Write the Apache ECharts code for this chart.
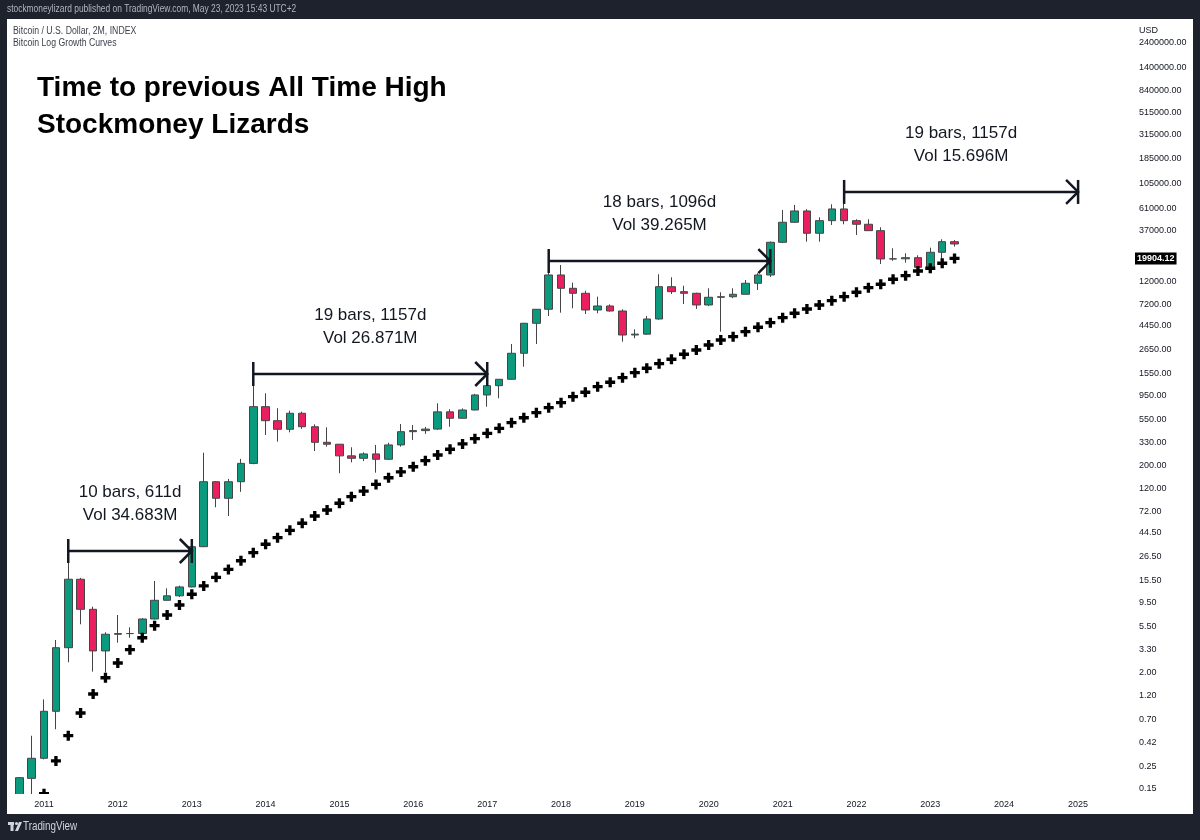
<!DOCTYPE html>
<html><head><meta charset="utf-8">
<script src="https://cdn.jsdelivr.net/npm/echarts@6/dist/echarts.min.js"></script>
<style>html,body{margin:0;padding:0;background:#1e222d}#c{width:1200px;height:840px}</style>
</head><body><div id="c"></div><script>
// ---------- DATA (2M bars, BTC/USD INDEX) ----------
const BAR_DATES = [
  '2010-09-01','2010-11-01',
  '2011-01-01','2011-03-01','2011-05-01','2011-07-01','2011-09-01','2011-11-01',
  '2012-01-01','2012-03-01','2012-05-01','2012-07-01','2012-09-01','2012-11-01',
  '2013-01-01','2013-03-01','2013-05-01','2013-07-01','2013-09-01','2013-11-01',
  '2014-01-01','2014-03-01','2014-05-01','2014-07-01','2014-09-01','2014-11-01',
  '2015-01-01','2015-03-01','2015-05-01','2015-07-01','2015-09-01','2015-11-01',
  '2016-01-01','2016-03-01','2016-05-01','2016-07-01','2016-09-01','2016-11-01',
  '2017-01-01','2017-03-01','2017-05-01','2017-07-01','2017-09-01','2017-11-01',
  '2018-01-01','2018-03-01','2018-05-01','2018-07-01','2018-09-01','2018-11-01',
  '2019-01-01','2019-03-01','2019-05-01','2019-07-01','2019-09-01','2019-11-01',
  '2020-01-01','2020-03-01','2020-05-01','2020-07-01','2020-09-01','2020-11-01',
  '2021-01-01','2021-03-01','2021-05-01','2021-07-01','2021-09-01','2021-11-01',
  '2022-01-01','2022-03-01','2022-05-01','2022-07-01','2022-09-01','2022-11-01',
  '2023-01-01','2023-03-01','2023-05-01'
];
const OPEN = [
  0.062, 0.19,
  0.297, 0.844, 3.47, 15.9, 8.15, 3.23,
  4.68, 4.75, 4.76, 6.57, 9.96, 11.0,
  13.4, 32.8, 139, 96.2, 139, 209,
  738, 540, 446, 637, 472, 334,
  320, 247, 234, 258, 229, 315,
  423, 433, 448, 657, 570, 685,
  957, 1176, 1356, 2418, 4710, 6430,
  13786, 10254, 9175, 6330, 6920, 6190,
  3630, 3700, 5181, 10626, 9512, 9175,
  7077, 8397, 8500, 8975, 11463, 13786,
  28515, 44500, 57210, 34850, 46110, 59820,
  46110, 42570, 36920, 19680, 19750, 20250,
  16350, 22830, 28900
];
const HIGH = [
  0.195, 0.49,
  1.10, 4.12, 29.8, 16.4, 8.64, 4.89,
  7.18, 5.46, 6.7, 15.3, 13.0, 13.8,
  34.5, 265, 141, 148, 231, 1450,
  993, 712, 675, 660, 498, 466,
  322, 299, 267, 315, 331, 502,
  491, 470, 795, 696, 710, 980,
  1250, 1360, 2972, 4750, 6450, 18800,
  17211, 11618, 9720, 8510, 7170, 6430,
  4120, 5541, 14000, 13100, 10860, 9300,
  10254, 9384, 10254, 12339, 14300, 29000,
  58500, 65390, 59500, 49700, 66400, 69000,
  47560, 47560, 39800, 24960, 22330, 21360,
  25290, 30500, 29960
];
const LOW = [
  0.058, 0.125,
  0.29, 0.566, 2.51, 5.84, 2.04, 2.0,
  3.88, 4.33, 4.7, 6.5, 9.9, 10.7,
  13.3, 32.5, 78.8, 64.9, 111, 205,
  393, 339, 417, 450, 275, 303,
  168, 214, 220, 170, 226, 303,
  352, 403, 440, 472, 565, 680,
  737, 889, 1345, 1794, 2972, 5541,
  5961, 6574, 5790, 5880, 6100, 3128,
  3374, 3650, 5100, 9036, 7236, 6472,
  6900, 3906, 8230, 8950, 9873, 13200,
  28000, 44000, 28900, 28900, 41900, 42570,
  33560, 36900, 17600, 18900, 18120, 15400,
  16300, 18530, 25860
];
const CLOSE = [
  0.193, 0.297,
  0.844, 3.47, 15.9, 8.15, 3.23, 4.68,
  4.75, 4.76, 6.57, 9.96, 11.0, 13.4,
  32.8, 139, 96.2, 139, 209, 738,
  540, 446, 637, 472, 334, 320,
  247, 234, 258, 229, 315, 423,
  433, 448, 657, 570, 685, 957,
  1176, 1356, 2418, 4710, 6430, 13786,
  10254, 9175, 6330, 6920, 6190, 3630,
  3700, 5181, 10626, 9512, 9175, 7077,
  8397, 8500, 8975, 11463, 13786, 28515,
  44500, 57210, 34850, 46110, 59820, 46110,
  42570, 36920, 19680, 19750, 20250, 16350,
  22830, 28900, 27450
];
// Bitcoin Log Growth Curve (lower curve), one value per bar from 2011-01
const CURVE_DATES = BAR_DATES.slice(2);
const CURVE = [
  0.135, 0.280, 0.491, 0.813, 1.24, 1.78,
  2.47, 3.32, 4.33, 5.66, 7.18, 8.97,
  11.4, 13.7, 16.6, 19.8, 24.0, 28.7,
  34.6, 40.1, 47.2, 55.2, 64.9, 74.2,
  86.1, 99.7, 113, 131, 152, 173,
  194, 222, 252, 286, 322, 362,
  408, 456, 517, 577, 645, 721,
  806, 921, 1016, 1150, 1269, 1405,
  1570, 1732, 1918, 2115, 2364, 2601,
  2908, 3250, 3497, 3907, 4309, 4774,
  5334, 5883, 6473, 7076, 7784, 8510,
  9384, 10394, 11207, 12530, 13571, 15066,
  15999, 17886, 19904.12
];
const CURVE_LAST = 19904.12;
const Y_TICKS = [0.15, 0.25, 0.42, 0.7, 1.2, 2, 3.3, 5.5, 9.5, 15.5, 26.5, 44.5, 72, 120, 200, 330, 550, 950,
  1550, 2650, 4450, 7200, 12000, 19904.12, 37000, 61000, 105000, 185000, 315000, 515000, 840000, 1400000, 2400000];
const X_RANGE = ['2010-07-07', '2025-08-21'];
const Y_RANGE = [0.1342, 2677000];
// "Time to previous ATH" annotations
const ANN_START = ['2011-05-01', '2013-11-01', '2017-11-01', '2021-11-01'];
const ANN_END   = ['2013-01-01', '2017-01-01', '2020-11-01', '2025-01-01'];
const ANN_PRICE = [29.8, 1525, 18800, 87300];
const ANN_BARS  = ['10 bars, 611d', '19 bars, 1157d', '18 bars, 1096d', '19 bars, 1157d'];
const ANN_VOL   = ['Vol 34.683M', 'Vol 26.871M', 'Vol 39.265M', 'Vol 15.696M'];

// ---------- CHART ----------
const SANS = "'Liberation Sans', Arial, sans-serif";
const INK = '#131722';
const FRAME = '#1e222d';
const YEAR_MS = 365 * 24 * 3600 * 1000;

const candles = BAR_DATES.map((d, i) => [d, OPEN[i], CLOSE[i], LOW[i], HIGH[i]]);
const curve = CURVE_DATES.map((d, i) => [d, CURVE[i]]);
const ann = ANN_START.map((s, i) => [s, ANN_END[i], ANN_PRICE[i]]);

const chart = echarts.init(document.getElementById('c'), null, { renderer: 'canvas' });
chart.setOption({
  animation: false,
  backgroundColor: '#ffffff',
  grid: { left: 8, right: 75, top: 38, bottom: 46, containLabel: false },
  xAxis: {
    type: 'time', min: X_RANGE[0], max: X_RANGE[1], z: 30,
    minInterval: YEAR_MS, maxInterval: YEAR_MS * 1.01,
    axisLine: { show: false }, axisTick: { show: false }, splitLine: { show: false },
    axisLabel: {
      showMinLabel: false, showMaxLabel: false, hideOverlap: false,
      formatter: v => { const d = new Date(v); return (d.getMonth() === 0 && d.getDate() === 1) ? String(d.getFullYear()) : ''; },
      color: INK, fontFamily: SANS, fontSize: 9, margin: 6
    }
  },
  yAxis: {
    type: 'log', position: 'right', min: Y_RANGE[0], max: Y_RANGE[1], z: 30,
    name: 'USD', nameLocation: 'end', nameGap: 3,
    nameTextStyle: { color: INK, fontFamily: SANS, fontSize: 9, align: 'left', padding: [0, 0, 0, 14] },
    axisLine: { show: false }, axisTick: { show: false }, splitLine: { show: false },
    axisLabel: {
      customValues: Y_TICKS,
      margin: 10, align: 'left',
      formatter: v => (Math.abs(v - CURVE_LAST) < 0.01 ? '{cur|' + CURVE_LAST.toFixed(2) + '}' : '{n|' + v.toFixed(2) + '}'),
      rich: {
        n: { color: INK, fontFamily: SANS, fontSize: 9, padding: [0, 0, 0, 4] },
        cur: { color: '#ffffff', backgroundColor: '#000000', fontFamily: SANS, fontSize: 9, fontWeight: 'bold', padding: [2, 2, 1, 2] }
      }
    }
  },
  series: [
    {
      type: 'candlestick', data: candles, barWidth: 8, clip: true, z: 2,
      itemStyle: {
        color: '#0c9a7e', color0: '#ea1f5f',
        borderColor: '#454545', borderColor0: '#454545', borderColorDoji: '#333333', borderWidth: 1
      }
    },
    {
      type: 'scatter', data: curve, clip: true, z: 3,
      symbol: 'path://M3,0H6V3H9V6H6V9H3V6H0V3H3Z', symbolSize: 10,
      itemStyle: { color: '#000000', opacity: 1 }
    },
    {
      type: 'custom', data: ann, z: 5, clip: false,
      encode: { x: [0, 1], y: 2 },
      renderItem: (params, api) => {
        const i = params.dataIndex;
        const p1 = api.coord([api.value(0), api.value(2)]);
        const p2 = api.coord([api.value(1), api.value(2)]);
        const x1 = p1[0], x2 = p2[0], y = p1[1];
        const t = 12, a = 12, mid = (x1 + x2) / 2;
        const ls = { stroke: INK, lineWidth: 2.5, fill: null };
        const ts = { fill: INK, fontFamily: SANS, fontSize: 17, align: 'center', verticalAlign: 'middle' };
        return {
          type: 'group', children: [
            { type: 'line', shape: { x1: x1, y1: y, x2: x2, y2: y }, style: ls },
            { type: 'line', shape: { x1: x1, y1: y - t, x2: x1, y2: y + t }, style: ls },
            { type: 'line', shape: { x1: x2, y1: y - t, x2: x2, y2: y + t }, style: ls },
            { type: 'polyline', shape: { points: [[x2 - a, y - a], [x2, y], [x2 - a, y + a]] }, style: ls },
            { type: 'text', style: Object.assign({ text: ANN_BARS[i], x: mid, y: y - 59 }, ts) },
            { type: 'text', style: Object.assign({ text: ANN_VOL[i], x: mid, y: y - 36 }, ts) }
          ]
        };
      }
    }
  ],
  graphic: [
    // white strip under the plot (x-axis label band) so marks stop at the plot bottom
    { type: 'rect', shape: { x: 7, y: 794, width: 1119, height: 20 }, style: { fill: '#ffffff' }, z: 20 },
    { type: 'rect', shape: { x: 0, y: 0, width: 1200, height: 19 }, style: { fill: FRAME }, z: 100 },
    { type: 'rect', shape: { x: 0, y: 814, width: 1200, height: 26 }, style: { fill: FRAME }, z: 100 },
    { type: 'rect', shape: { x: 0, y: 0, width: 7, height: 840 }, style: { fill: FRAME }, z: 100 },
    { type: 'rect', shape: { x: 1193, y: 0, width: 7, height: 840 }, style: { fill: FRAME }, z: 100 },
    { type: 'text', x: 7, y: 9, scaleX: 0.8, z: 101, style: { text: 'stockmoneylizard published on TradingView.com, May 23, 2023 15:43 UTC+2', fill: '#b2b5be', fontFamily: SANS, fontSize: 10.5, verticalAlign: 'middle' } },
    { type: 'text', x: 13, y: 31, scaleX: 0.87, z: 101, style: { text: 'Bitcoin / U.S. Dollar, 2M, INDEX', fill: '#3b3f4a', fontFamily: SANS, fontSize: 10, verticalAlign: 'middle' } },
    { type: 'text', x: 13, y: 43, scaleX: 0.87, z: 101, style: { text: 'Bitcoin Log Growth Curves', fill: '#3b3f4a', fontFamily: SANS, fontSize: 10, verticalAlign: 'middle' } },
    { type: 'text', x: 37, y: 88, z: 101, style: { text: 'Time to previous All Time High', fill: '#000000', fontFamily: SANS, fontWeight: 'bold', fontSize: 28, verticalAlign: 'middle' } },
    { type: 'text', x: 37, y: 125, z: 101, style: { text: 'Stockmoney Lizards', fill: '#000000', fontFamily: SANS, fontWeight: 'bold', fontSize: 28, verticalAlign: 'middle' } },
    { type: 'rect', z: 101, shape: { x: 8, y: 822, width: 6, height: 3 }, style: { fill: '#d1d4dc' } },
    { type: 'rect', z: 101, shape: { x: 10.5, y: 822, width: 3, height: 9 }, style: { fill: '#d1d4dc' } },
    { type: 'circle', z: 101, shape: { cx: 16.5, cy: 823.5, r: 1.6 }, style: { fill: '#d1d4dc' } },
    { type: 'polygon', z: 101, shape: { points: [[15, 831], [19, 822], [22, 822], [18, 831]] }, style: { fill: '#d1d4dc' } },
    { type: 'text', x: 23, y: 827, scaleX: 0.82, z: 101, style: { text: 'TradingView', fill: '#d1d4dc', fontFamily: SANS, fontSize: 12, verticalAlign: 'middle' } }
  ]
});
</script></body></html>
